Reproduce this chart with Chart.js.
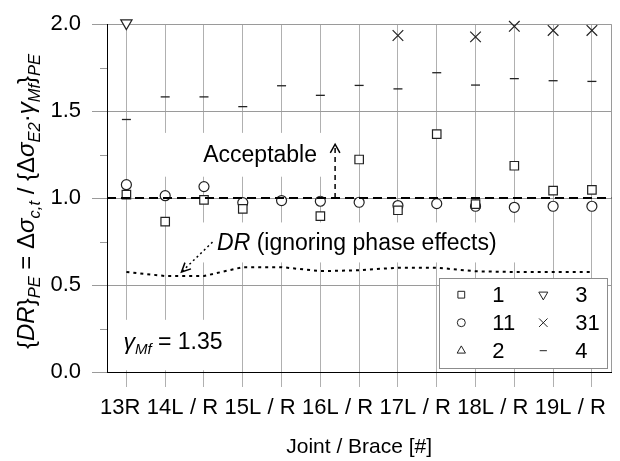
<!DOCTYPE html>
<html>
<head>
<meta charset="utf-8">
<script src="https://cdn.jsdelivr.net/npm/chart.js@4/dist/chart.umd.min.js"></script>
<style>
  html, body { margin: 0; padding: 0; background: #fff; }
</style>
</head>
<body>
<canvas id="drChart" width="620" height="461"></canvas>
<script>
// joints / braces on the x axis and the labels printed under them
const joints = ['13R', '14L', '14R', '15L', '15R', '16L', '16R', '17L', '17R', '18L', '18R', '19L', '19R'];
const tickLabels = ['13R  ', '14L', '/ R', '15L', '/ R', '16L', '/ R', '17L', '/ R', '18L', '/ R', '19L', '/ R'];

// {DR}_PE per sea state
const seaState1 = [1.02, 0.865, 0.99, 0.938, null, 0.896, 1.222, 0.93, 1.368, 0.965, 1.186, 1.043, 1.047];
const seaState11 = [1.077, 1.014, 1.066, 0.974, 0.986, 0.982, 0.976, 0.957, 0.968, 0.953, 0.947, 0.953, 0.953];
const seaState2 = [null, null, null, null, null, null, null, null, null, null, null, null, null];
const seaState3 = [2.006, null, null, null, null, null, null, null, null, null, null, null, null];
const seaState31 = [null, null, null, null, null, null, null, 1.935, null, 1.927, 1.988, 1.964, 1.964];
const seaState4 = [1.452, 1.582, 1.582, 1.526, 1.646, 1.591, 1.648, 1.628, 1.721, 1.65, 1.687, 1.675, 1.671];

// DR ignoring phase effects (dotted line)
const drNoPhase = [0.575, 0.552, 0.552, 0.603, 0.603, 0.58, 0.585, 0.6, 0.6, 0.579, 0.575, 0.575, 0.575];

const FONT = "'Liberation Sans', Arial, sans-serif";
Chart.defaults.font.family = FONT;
Chart.defaults.color = '#000';

const ink = '#222';
function markers(label, data, style, radius, extra) {
  return Object.assign({
    label: label,
    data: data,
    showLine: false,
    fill: false,
    pointStyle: style,
    pointRadius: radius,
    pointHoverRadius: radius,
    pointBorderWidth: 1.2,
    pointBorderColor: ink,
    pointBackgroundColor: '#fff',
    borderColor: ink,
    backgroundColor: '#fff',
    clip: false,
    inLegend: true
  }, extra || {});
}

// draw text made of pieces (italic / subscript) one after another
function drawRich(ctx, parts, x0, y0) {
  let x = x0;
  parts.forEach(p => {
    ctx.font = (p.it ? 'italic ' : '') + p.size + 'px ' + FONT;
    ctx.fillText(p.t, x, y0 + (p.dy || 0));
    x += ctx.measureText(p.t).width;
  });
  return x;
}

function arrowHead(ctx, tx, ty, fx, fy, len, spread) {
  const ang = Math.atan2(fy - ty, fx - tx);
  ctx.beginPath();
  ctx.moveTo(tx + len * Math.cos(ang - spread), ty + len * Math.sin(ang - spread));
  ctx.lineTo(tx, ty);
  ctx.lineTo(tx + len * Math.cos(ang + spread), ty + len * Math.sin(ang + spread));
  ctx.stroke();
}

const notes = {
  id: 'notes',
  beforeDatasetsDraw(chart) {
    const { ctx, chartArea: a, scales: { x, y } } = chart;
    ctx.save();
    // right frame
    ctx.strokeStyle = '#9a9a9a';
    ctx.lineWidth = 1;
    ctx.beginPath();
    ctx.moveTo(Math.round(a.right) + 0.5, a.top);
    ctx.lineTo(Math.round(a.right) + 0.5, a.bottom);
    ctx.stroke();
    // minor ticks on y
    for (let v = 0.25; v < 2; v += 0.5) {
      const py = Math.round(y.getPixelForValue(v)) + 0.5;
      ctx.beginPath();
      ctx.moveTo(a.left - 7, py);
      ctx.lineTo(a.left, py);
      ctx.stroke();
    }
    // text boxes hide the grid
    ctx.fillStyle = '#fff';
    const box = (i0, v0, i1, v1) => {
      const x0 = x.getPixelForValue(i0), x1 = x.getPixelForValue(i1);
      const y0 = y.getPixelForValue(v0), y1 = y.getPixelForValue(v1);
      ctx.fillRect(x0, y0, x1 - x0, y1 - y0);
    };
    box(0.48, 1.375, 5.33, 1.123);
    box(1.5, 0.86, 10.3, 0.63);
    box(-0.4, 0.3, 2.65, 0.01);

    ctx.fillStyle = '#000';
    ctx.textBaseline = 'alphabetic';
    ctx.textAlign = 'left';
    // Acceptable
    drawRich(ctx, [{ t: 'Acceptable', size: 23 }], x.getPixelForValue(1.98), y.getPixelForValue(1.205));
    // DR (ignoring phase effects)
    drawRich(ctx, [{ t: 'DR', size: 23, it: true }, { t: ' (ignoring phase effects)', size: 23 }],
      x.getPixelForValue(2.337), y.getPixelForValue(0.699));
    // gamma_Mf = 1.35
    drawRich(ctx, [{ t: 'γ', size: 23, it: true }, { t: 'Mf', size: 15, it: true, dy: 5 }, { t: ' = 1.35', size: 23 }],
      x.getPixelForValue(-0.077), y.getPixelForValue(0.132));

    // dotted arrow from DR label to the line
    const sx = x.getPixelForValue(2.22), sy = y.getPixelForValue(0.747);
    const tx = x.getPixelForValue(1.42), ty = y.getPixelForValue(0.575);
    ctx.strokeStyle = '#000';
    ctx.lineWidth = 1.5;
    ctx.setLineDash([2, 3]);
    ctx.beginPath();
    ctx.moveTo(sx, sy);
    ctx.lineTo(tx, ty);
    ctx.stroke();
    ctx.setLineDash([]);
    arrowHead(ctx, tx, ty, sx, sy, 10, 0.45);
    ctx.restore();
  },
  afterDatasetsDraw(chart) {
    const { ctx, chartArea: a, scales: { x, y } } = chart;
    ctx.save();
    // DR = 1 limit
    const y1 = y.getPixelForValue(1);
    ctx.strokeStyle = '#000';
    ctx.lineWidth = 2;
    ctx.setLineDash([9, 5]);
    ctx.beginPath();
    ctx.moveTo(a.left, y1);
    ctx.lineTo(a.right, y1);
    ctx.stroke();
    // acceptable arrow
    const ax = x.getPixelForValue(5.38), top = y.getPixelForValue(1.31);
    ctx.lineWidth = 1.5;
    ctx.setLineDash([5, 4]);
    ctx.beginPath();
    ctx.moveTo(ax, y1);
    ctx.lineTo(ax, top + 2);
    ctx.stroke();
    ctx.setLineDash([]);
    arrowHead(ctx, ax, top, ax, top + 20, 10, 0.5);

    // legend box: two columns of three
    const w = 168, h = 90;
    const lx = a.right - 4 - w, ly = a.bottom - 4 - h;
    ctx.fillStyle = '#fff';
    ctx.fillRect(lx, ly, w, h);
    ctx.strokeStyle = '#8c8c8c';
    ctx.lineWidth = 1;
    ctx.strokeRect(Math.round(lx) + 0.5, Math.round(ly) + 0.5, w, h);
    const items = chart.data.datasets.filter(d => d.inLegend);
    ctx.font = '22px ' + FONT;
    ctx.textBaseline = 'middle';
    ctx.textAlign = 'left';
    items.forEach((d, i) => {
      const col = Math.floor(i / 3), row = i % 3;
      const my = ly + 16.7 + row * 28;
      const mx = lx + 22 + col * 82;
      ctx.strokeStyle = ink;
      ctx.fillStyle = '#fff';
      ctx.lineWidth = 1;
      Chart.helpers.drawPoint(ctx, {
        pointStyle: d.pointStyle,
        radius: d.pointRadius * 0.8,
        rotation: d.pointRotation || 0,
        borderWidth: 1
      }, mx, my);
      ctx.fillStyle = '#000';
      ctx.fillText(d.label, lx + 53 + col * 83, my + 1);
    });
    ctx.restore();
  },
  afterDraw(chart) {
    const { ctx } = chart;
    ctx.save();
    ctx.fillStyle = '#000';
    ctx.textBaseline = 'alphabetic';
    ctx.textAlign = 'left';
    ctx.translate(34, 349);
    ctx.rotate(-Math.PI / 2);
    const M = 24, S = 16.5, D = 5.5;
    drawRich(ctx, [
      { t: '{', size: M }, { t: 'DR', size: M, it: true }, { t: '}', size: M }, { t: 'PE', size: S, it: true, dy: D },
      { t: ' = ', size: M }, { t: 'Δ', size: M }, { t: 'σ', size: M, it: true }, { t: 'c,t', size: S, it: true, dy: D },
      { t: ' / {', size: M }, { t: 'Δ', size: M }, { t: 'σ', size: M, it: true }, { t: 'E2', size: S, it: true, dy: D },
      { t: '·', size: M }, { t: 'γ', size: M, it: true }, { t: 'Mf', size: S, it: true, dy: D },
      { t: '}', size: M }, { t: 'PE', size: S, it: true, dy: D }
    ], 0, 0);
    ctx.restore();
  }
};

new Chart(document.getElementById('drChart'), {
  type: 'line',
  data: {
    labels: joints,
    datasets: [
      markers('1', seaState1, 'rect', 6),
      markers('11', seaState11, 'circle', 5),
      markers('2', seaState2, 'triangle', 6),
      markers('3', seaState3, 'triangle', 6.5, { pointRotation: 180 }),
      markers('31', seaState31, 'crossRot', 7.5),
      markers('4', seaState4, 'line', 4.5, { pointBorderWidth: 1.3 }),
      {
        label: 'DR',
        data: drNoPhase,
        borderColor: '#000',
        borderWidth: 2,
        borderDash: [3, 4],
        pointRadius: 0,
        fill: false,
        tension: 0
      }
    ]
  },
  options: {
    responsive: false,
    animation: false,
    layout: { padding: { top: 23, right: 4, bottom: 0, left: 0 } },
    plugins: {
      legend: { display: false },
      tooltip: { enabled: false }
    },
    scales: {
      x: {
        type: 'category',
        offset: true,
        grid: { color: '#b0b0b0', tickLength: 15, offset: false },
        border: { color: '#000' },
        ticks: {
          autoSkip: false,
          maxRotation: 0,
          padding: 8,
          font: { size: 22 },
          callback: (v, i) => tickLabels[i]
        },
        title: {
          display: true,
          text: 'Joint / Brace [#]',
          font: { size: 21 },
          padding: { top: 4, bottom: 1 }
        },
        afterFit: s => { s.height = 89; }
      },
      y: {
        min: 0,
        max: 2,
        ticks: {
          stepSize: 0.5,
          padding: 11,
          font: { size: 22 },
          callback: v => v.toFixed(1)
        },
        grid: { color: '#9a9a9a', tickLength: 15 },
        border: { color: '#000' },
        afterFit: s => { s.width = 107; }
      }
    }
  },
  plugins: [notes]
});
</script>
</body>
</html>
